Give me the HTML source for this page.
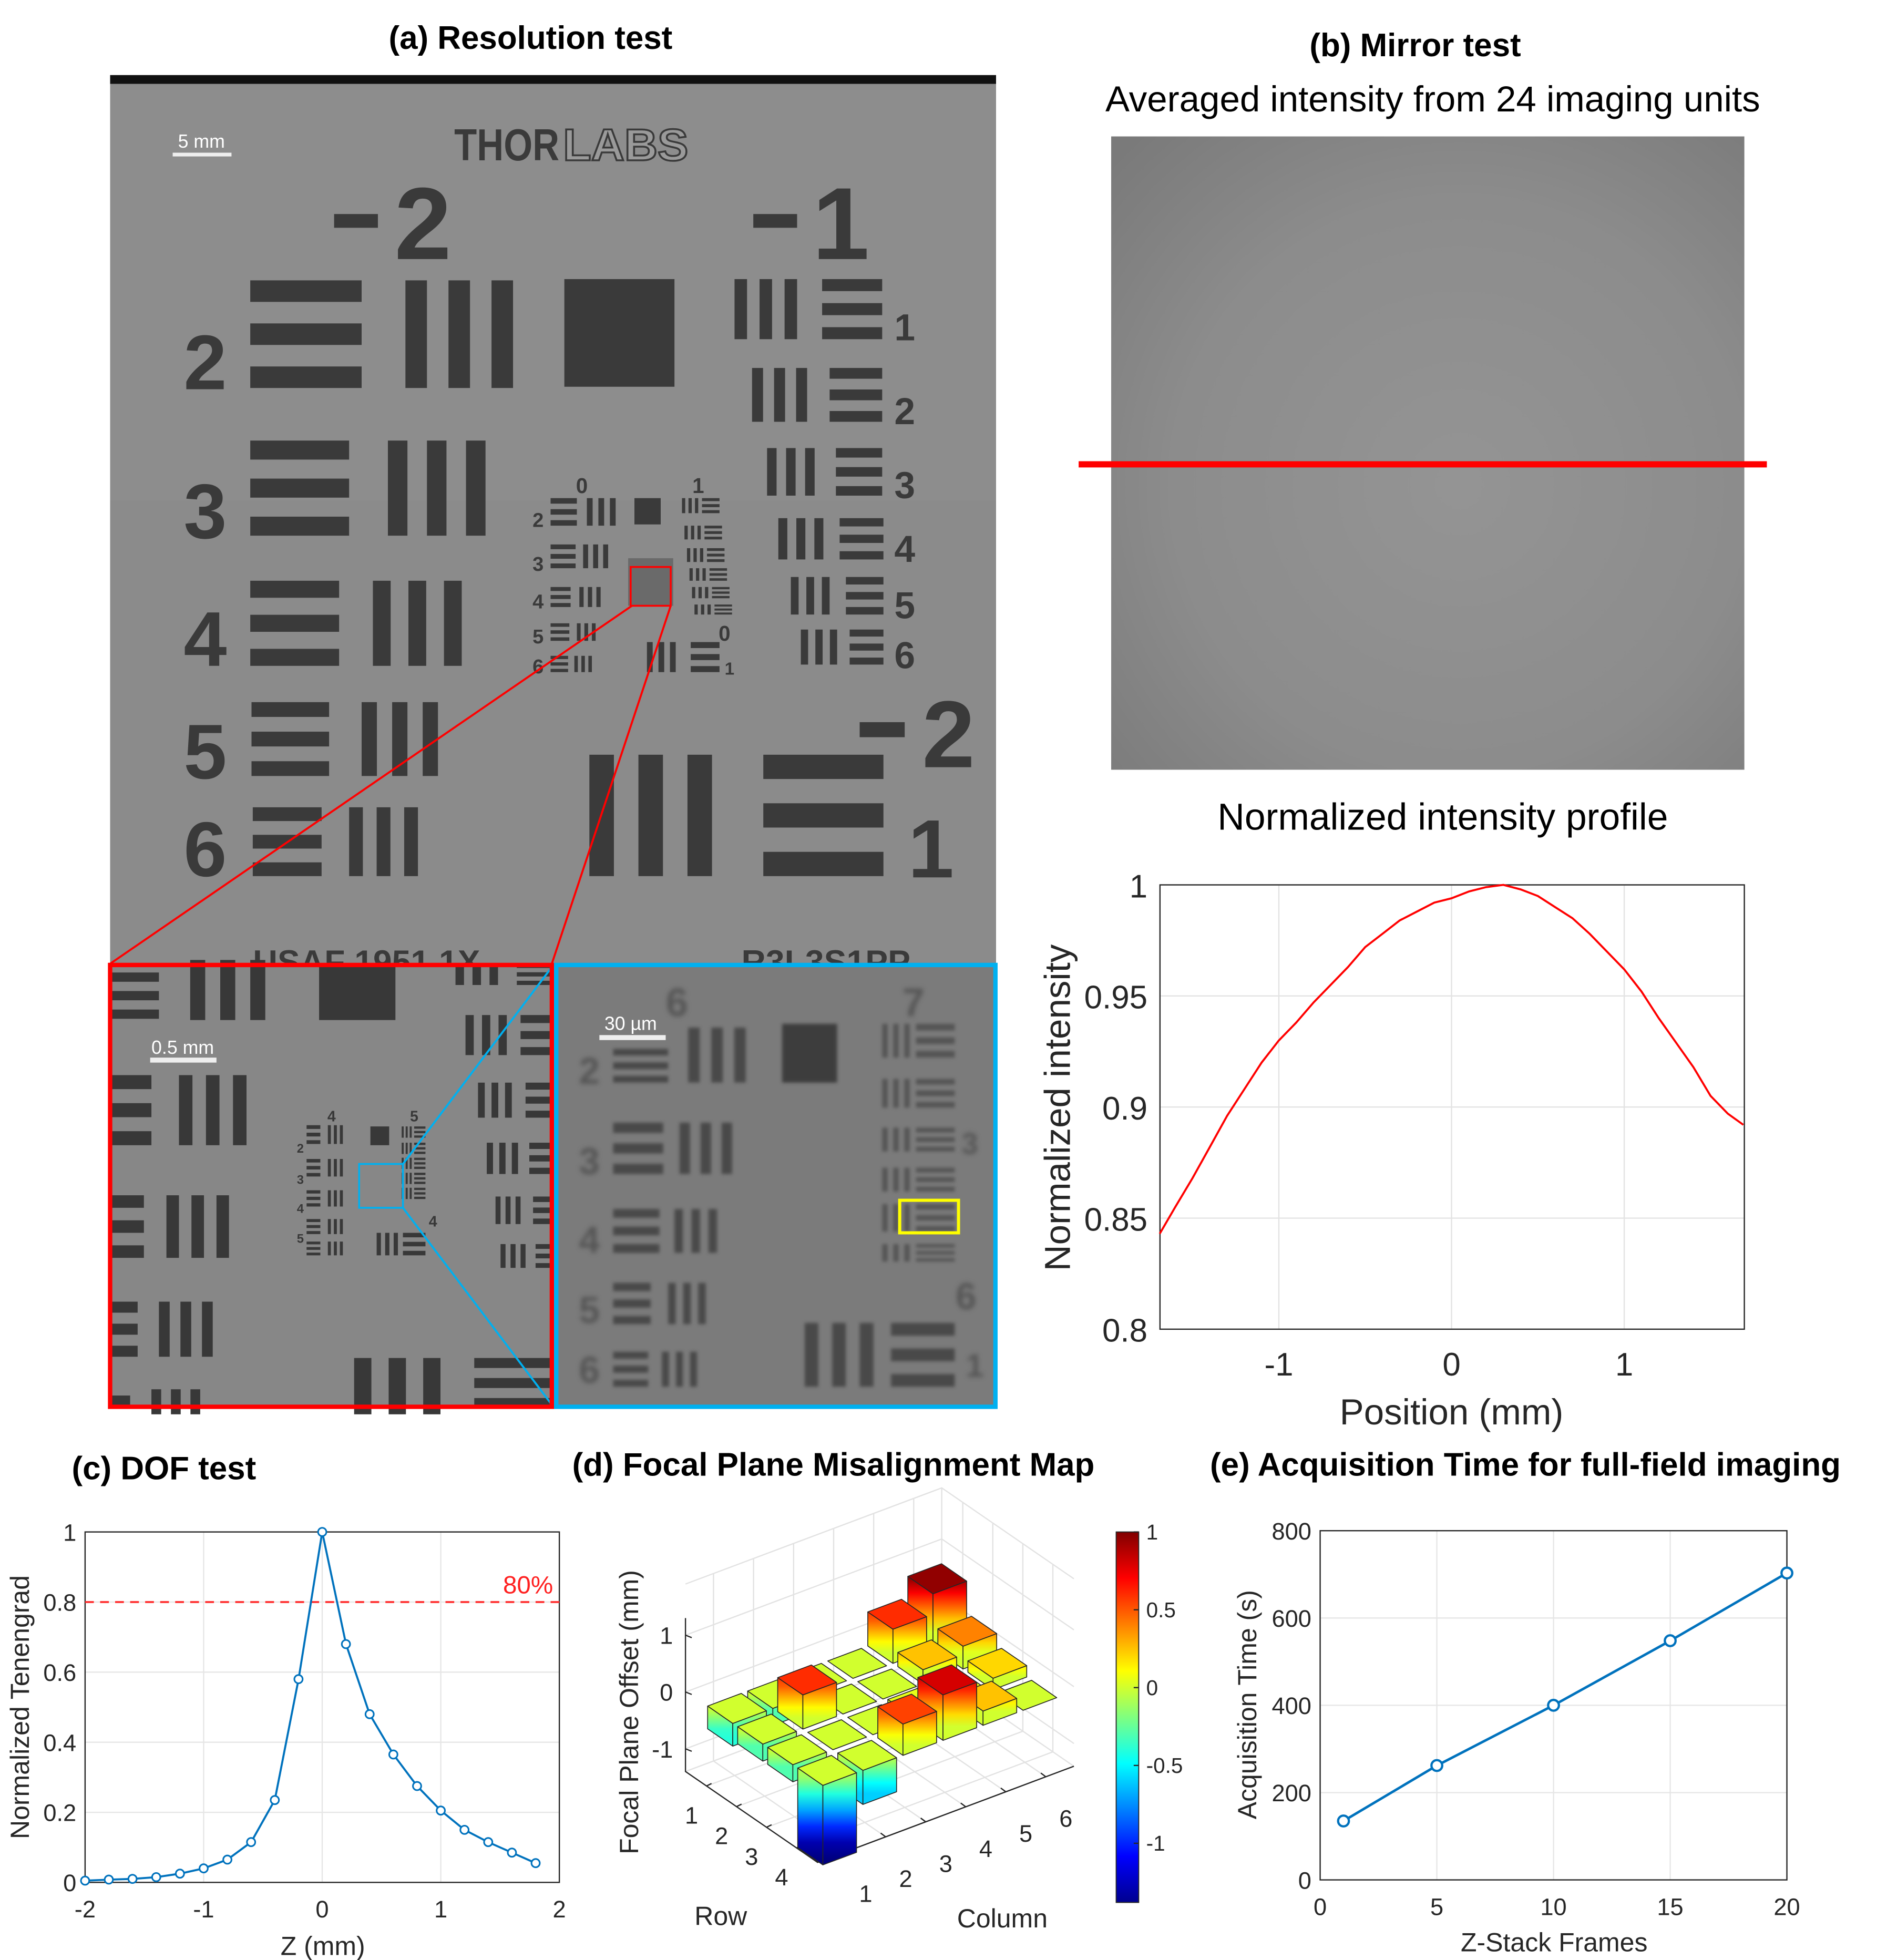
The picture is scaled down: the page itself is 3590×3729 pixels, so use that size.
<!DOCTYPE html>
<html><head><meta charset="utf-8">
<style>
html,body{margin:0;padding:0;background:#fff;}
svg{display:block;}
text{font-family:"Liberation Sans",sans-serif;}
</style></head>
<body>
<svg id="fig" xmlns="http://www.w3.org/2000/svg" width="3590" height="3729" viewBox="0 0 1508 1566" preserveAspectRatio="none">
<defs>
<radialGradient id="mirrorGrad" cx="0.55" cy="0.55" r="0.75">
<stop offset="0" stop-color="#949494"/><stop offset="0.6" stop-color="#8c8c8c"/><stop offset="1" stop-color="#7a7a7a"/>
</radialGradient>
<filter id="blur1"><feGaussianBlur stdDeviation="1.3"/></filter>
<linearGradient id="cbar" x1="0" y1="1" x2="0" y2="0">
<stop offset="0" stop-color="#00008f"/><stop offset="0.125" stop-color="#0000ff"/><stop offset="0.375" stop-color="#00ffff"/><stop offset="0.625" stop-color="#ffff00"/><stop offset="0.875" stop-color="#ff0000"/><stop offset="1" stop-color="#800000"/>
</linearGradient>
</defs>

<text x="424" y="39" font-size="26" font-weight="bold" text-anchor="middle">(a) Resolution test</text>
<text x="1131" y="45" font-size="26" font-weight="bold" text-anchor="middle">(b) Mirror test</text>
<text x="1145" y="89" font-size="29" text-anchor="middle">Averaged intensity from 24 imaging units</text>
<text x="1153" y="663" font-size="30" text-anchor="middle">Normalized intensity profile</text>
<text x="131" y="1182" font-size="26" font-weight="bold" text-anchor="middle">(c) DOF test</text>
<text x="666" y="1179" font-size="26" font-weight="bold" text-anchor="middle">(d) Focal Plane Misalignment Map</text>
<text x="1219" y="1179" font-size="26" font-weight="bold" text-anchor="middle">(e) Acquisition Time for full-field imaging</text>

<g id="panelA"></g>
<g id="insetRed"></g>
<g id="insetBlue"></g>

<rect x="888" y="109" width="506" height="506" fill="url(#mirrorGrad)"/>
<line x1="862" y1="371" x2="1412" y2="371" stroke="#ff0000" stroke-width="5"/>
<g id="profile"></g>

<g id="dof"></g>
<g id="bar3"></g>
<g id="acq"></g>
</svg>

<script>
// ---------- chart data ----------
const profX = [-1.69,-1.6,-1.5,-1.4,-1.3,-1.2,-1.1,-1.0,-0.9,-0.8,-0.7,-0.6,-0.5,-0.4,-0.3,-0.2,-0.1,0,0.1,0.2,0.3,0.4,0.5,0.6,0.7,0.8,0.9,1.0,1.1,1.2,1.3,1.4,1.5,1.6,1.69];
const profY = [0.843,0.855,0.868,0.882,0.896,0.908,0.920,0.930,0.938,0.947,0.955,0.963,0.972,0.978,0.984,0.988,0.992,0.994,0.997,0.999,1.0,0.998,0.995,0.99,0.985,0.978,0.970,0.962,0.952,0.940,0.929,0.918,0.905,0.897,0.892];
const profYTicks = [0.8,0.85,0.9,0.95,1];
const profYTickLabels = ["0.8","0.85","0.9","0.95","1"];
const profXTicks = [-1,0,1];

const dofZ = [-2,-1.8,-1.6,-1.4,-1.2,-1.0,-0.8,-0.6,-0.4,-0.2,0,0.2,0.4,0.6,0.8,1.0,1.2,1.4,1.6,1.8];
const dofT = [0.005,0.008,0.01,0.015,0.025,0.04,0.065,0.115,0.235,0.58,1.0,0.68,0.48,0.365,0.275,0.205,0.15,0.115,0.085,0.055];
const dofYTicks = [0,0.2,0.4,0.6,0.8,1];
const dofYTickLabels = ["0","0.2","0.4","0.6","0.8","1"];
const dofXTicks = [-2,-1,0,1,2];
const dofThreshold = 0.8;

const barRows = [1,2,3,4];
const barCols = [1,2,3,4,5,6];
const offsetRow1 = [-0.4,-0.3,0,0,0.6,0.96];
const offsetRow2 = [-0.3,0.6,0,0,0.25,0.4];
const offsetRow3 = [-0.3,0,0,0.05,0.05,0.2];
const offsetRow4 = [-1.4,-0.6,0.55,0.8,0.25,0];
const zTicks = [-1,0,1];
const cbarTicks = [1,0.5,0,-0.5,-1];
const cbarTickLabels = ["1","0.5","0","-0.5","-1"];

const acqFrames = [1,5,10,15,20];
const acqTime = [135,262,400,548,703];
const acqXTicks = [0,5,10,15,20];
const acqYTicks = [0,200,400,600,800];

// ---------- helpers ----------
const NS = "http://www.w3.org/2000/svg";
function mk(tag, attrs, parent){
  const e = document.createElementNS(NS, tag);
  for (const k in attrs) e.setAttribute(k, attrs[k]);
  if (parent) parent.appendChild(e);
  return e;
}
function txt(parent, x, y, s, size, anchor, extra){
  const e = mk('text', Object.assign({x:x, y:y, 'font-size':size, 'text-anchor':anchor||'middle'}, extra||{}), parent);
  e.textContent = s;
  return e;
}
function grp(parent, x1, y1, x2, y2, orient, fill){
  const g = mk('g', {fill: fill}, parent);
  const w = x2-x1, h = y2-y1;
  for (let i=0;i<3;i++){
    if (orient==='v') mk('rect',{x:x1+i*w*2/5, y:y1, width:w/5, height:h}, g);
    else mk('rect',{x:x1, y:y1+i*h*2/5, width:w, height:h/5}, g);
  }
  return g;
}

// ---------- Panel A ----------
(function(){
  const P = document.getElementById('panelA');
  let e = mk('rect',{x:88,y:60,width:708,height:710,fill:'#8d8d8d'},P);
  
  
  mk('rect',{x:88,y:60,width:708,height:7,fill:'#111'},P);
  mk('rect',{x:88,y:400,width:708,height:370,fill:'#898989',opacity:0.5},P);
  const D = '#3a3a3a';
  const bars = mk('g',{},P);
  
  
  grp(bars,200,224,289,310,'h',D); grp(bars,324,224,410,310,'v',D);
  mk('rect',{x:451,y:223,width:88,height:86,fill:D},bars);
  grp(bars,200,352,279,428,'h',D); grp(bars,310,352,388,428,'v',D);
  grp(bars,200,464,271,532,'h',D); grp(bars,298,464,369,532,'v',D);
  grp(bars,201,561,263,620,'h',D); grp(bars,289,561,350,620,'v',D);
  grp(bars,202,645,257,700,'h',D); grp(bars,279,645,334,700,'v',D);
  const rg = [[587,637,657,705,223,271],[601,645,663,705,294,337],[613,651,668,705,358,396],[622,658,671,706,414,447],[632,663,676,706,461,491],[640,669,679,706,503,531]];
  rg.forEach(r=>{grp(bars,r[0],r[4],r[1],r[5],'v',D);grp(bars,r[2],r[4],r[3],r[5],'h',D);});
  grp(bars,471,603,569,700,'v',D); grp(bars,610,603,706,700,'h',D);
  const cg=[[440,461,469,492,398,420],[440,460,466,486,435,454],[440,456,463,480,469,485],[440,455,461,476,498,512],[440,454,459,473,524,537]];
  cg.forEach(r=>{grp(bars,r[0],r[4],r[1],r[5],'h',D);grp(bars,r[2],r[4],r[3],r[5],'v',D);});
  mk('rect',{x:507,y:398,width:21,height:21,fill:D},bars);
  const sg=[[398,410,545],[420,431,547],[438,449,549],[454,464,551],[469,478,553],[483,491,555]];
  sg.forEach(r=>{grp(bars,r[2],r[0],r[2]+13,r[1],'v',D);grp(bars,r[2]+16,r[0],r[2]+30,r[1],'h',D);});
  grp(bars,517,513,540,537,'v',D); grp(bars,552,513,575,537,'h',D);
  mk('rect',{x:502,y:446,width:36,height:38,fill:'#6a6a6a'},bars);
  const lab = mk('g',{fill:D,'font-weight':'bold'},P);
  
  
  txt(lab,164,311,'2',62); txt(lab,164,430,'3',62); txt(lab,164,532,'4',62); txt(lab,164,622,'5',62); txt(lab,164,700,'6',62);
  mk('rect',{x:267,y:171,width:35,height:11,fill:D},lab);
  txt(lab,338,207,'2',82);
  mk('rect',{x:602,y:171,width:35,height:11,fill:D},lab);
  txt(lab,672,207,'1',82);
  mk('rect',{x:687,y:577,width:36,height:12,fill:D},lab);
  txt(lab,758,613,'2',76); txt(lab,744,701,'1',66);
  txt(lab,723,272,'1',30); txt(lab,723,339,'2',30); txt(lab,723,398,'3',30); txt(lab,723,449,'4',30); txt(lab,723,494,'5',30); txt(lab,723,534,'6',30);
  txt(lab,465,394,'0',17); txt(lab,558,394,'1',17);
  txt(lab,430,421,'2',16); txt(lab,430,456,'3',16); txt(lab,430,486,'4',16); txt(lab,430,514,'5',16); txt(lab,430,538,'6',16);
  txt(lab,579,512,'0',17); txt(lab,583,539,'1',14);
  txt(lab,293,778,'USAF  1951  1X',27,'middle',{'font-family':'Liberation Mono'});
  txt(lab,660,778,'R3L3S1PP',27,'middle',{'font-family':'Liberation Mono'});
  let t = txt(P,405,128,'THOR',36,'middle',{'font-weight':'bold',fill:D,textLength:84,lengthAdjust:'spacingAndGlyphs'});
  
  
  txt(P,500,128,'LABS',36,'middle',{'font-weight':'bold',fill:'#9a9a9a',stroke:D,'stroke-width':1.5,textLength:100,lengthAdjust:'spacingAndGlyphs'});
  t = txt(P,161,118,'5 mm',15,'middle',{fill:'#fff'});
  
  
  mk('rect',{x:138,y:122,width:47,height:3,fill:'#eee'},P);
  mk('rect',{x:504,y:453,width:32,height:31,fill:'none',stroke:'#ff0000','stroke-width':1.5},P);
  let l = mk('line',{x1:505,y1:484,x2:88,y2:770,stroke:'#ff0000','stroke-width':1.6},P);
  
  
  mk('line',{x1:536,y1:484,x2:441,y2:770,stroke:'#ff0000','stroke-width':1.6},P);
})();

// ---------- Red inset ----------
(function(){
  const P = document.getElementById('insetRed');
  mk('rect',{x:88,y:770,width:353,height:355,fill:'#878787'},P);
  const D='#383838';
  const g = mk('g',{},P);
  
  
  grp(g,88,777,127,814,'h',D); grp(g,152,767,212,815,'v',D);
  mk('rect',{x:255,y:770,width:61,height:45,fill:D},g);
  grp(g,364,770,398,787,'v',D); grp(g,413,770,440,787,'h',D);
  grp(g,372,811,405,843,'v',D); grp(g,416,811,440,843,'h',D);
  grp(g,88,859,121,915,'h',D); grp(g,143,859,197,915,'v',D);
  grp(g,88,955,115,1005,'h',D); grp(g,133,955,183,1005,'v',D);
  grp(g,88,1040,110,1084,'h',D); grp(g,127,1040,170,1084,'v',D);
  mk('rect',{x:88,y:1115,width:16,height:8,fill:D},g);
  grp(g,121,1110,160,1130,'v',D);
  grp(g,382,865,409,893,'v',D); grp(g,420,865,440,893,'h',D);
  grp(g,389,913,414,938,'v',D); grp(g,423,913,440,938,'h',D);
  grp(g,396,956,416,978,'v',D); grp(g,426,956,440,978,'h',D);
  grp(g,400,994,420,1013,'v',D); grp(g,428,994,440,1013,'h',D);
  grp(g,283,1085,352,1130,'v',D); grp(g,379,1085,440,1125,'h',D);
  const tg=[[899,914],[926,940],[951,964],[974,986],[992,1003]];
  tg.forEach(r=>{grp(g,245,r[0],256,r[1],'h',D);grp(g,262,r[0],274,r[1],'v',D);});
  mk('rect',{x:296,y:900,width:15,height:15,fill:D},g);
  [900,913,925,937,949].forEach(y=>{grp(g,321,y,329,y+9,'v',D);grp(g,331,y,340,y+9,'h',D);});
  grp(g,301,985,318,1003,'v',D); grp(g,322,985,340,1003,'h',D);
  const lab = mk('g',{fill:D,'font-weight':'bold'},P);
  txt(lab,265,896,'4',12); txt(lab,331,896,'5',12); txt(lab,346,980,'4',12);
  [921,946,969,993].forEach((y,i)=>txt(lab,240,y,String(i+2),10));
  let t = txt(P,146,842,'0.5 mm',15,'middle',{fill:'#fff'});
  
  
  mk('rect',{x:120,y:845,width:53,height:4,fill:'#eee'},P);
  mk('rect',{x:287,y:930,width:35,height:35,fill:'none',stroke:'#00b0f0','stroke-width':1.5},P);
  let l = mk('line',{x1:322,y1:930,x2:443,y2:770,stroke:'#00b0f0','stroke-width':1.6},P);
  
  
  mk('line',{x1:322,y1:965,x2:443,y2:1125,stroke:'#00b0f0','stroke-width':1.6},P);
  mk('rect',{x:88,y:771,width:353,height:353,fill:'none',stroke:'#ff0000','stroke-width':3.5},P);
})();

// ---------- Blue inset ----------
(function(){
  const P = document.getElementById('insetBlue');
  mk('rect',{x:443,y:770,width:354,height:355,fill:'#7b7b7b'},P);
  const D='#4a4a4a';
  const g = mk('g',{filter:'url(#blur1)'},P);
  
  
  grp(g,490,838,534,865,'h',D); grp(g,550,821,596,865,'v',D);
  mk('rect',{x:625,y:818,width:44,height:47,fill:'#3c3c3c'},g);
  grp(g,490,897,530,938,'h',D); grp(g,543,897,585,938,'v',D);
  grp(g,490,966,527,1001,'h',D); grp(g,539,966,573,1001,'v',D);
  grp(g,490,1025,520,1058,'h',D); grp(g,534,1025,564,1058,'v',D);
  grp(g,490,1080,518,1108,'h',D); grp(g,529,1080,557,1108,'v',D);
  grp(g,643,1057,698,1108,'v',D); grp(g,712,1057,763,1108,'h',D);
  [[818,845],[862,885],[901,920],[933,952],[962,984],[994,1008]].forEach(r=>{grp(g,705,r[0],727,r[1],'v','#555');grp(g,732,r[0],763,r[1],'h','#555');});
  const lab = mk('g',{fill:'#555','font-weight':'bold',filter:'url(#blur1)'},g);
  txt(lab,471,866,'2',30); txt(lab,471,938,'3',30); txt(lab,471,1001,'4',30); txt(lab,471,1057,'5',30); txt(lab,471,1105,'6',30);
  txt(lab,541,812,'6',32); txt(lab,730,812,'7',32); txt(lab,772,1046,'6',30); txt(lab,779,1100,'1',26); txt(lab,775,922,'3',24);
  let t = txt(P,504,823,'30 µm',15,'middle',{fill:'#fff'});
  
  
  mk('rect',{x:479,y:827,width:53,height:4,fill:'#eee'},P);
  let y = mk('rect',{x:719,y:959,width:47,height:26,fill:'none',stroke:'#ffff00','stroke-width':2.5},P);
  
  
  mk('rect',{x:444.5,y:771,width:351,height:353,fill:'none',stroke:'#00b0f0','stroke-width':3.5},P);
})();

// ---------- Profile chart ----------
(function(){
  const P = document.getElementById('profile');
  const L=927,R=1394,T=707,B=1062;
  const xs = v => 1160 + v*138;
  const ys = v => B - (v-0.8)/0.2*(B-T);
  mk('rect',{x:L,y:T,width:R-L,height:B-T,fill:'#fff'},P);
  profYTicks.forEach((v,i)=>{
    mk('line',{x1:L,y1:ys(v),x2:R,y2:ys(v),stroke:'#e3e3e3'},P);
    let t = txt(P,917,ys(v)+10,profYTickLabels[i],26,'end',{fill:'#262626'});
    
    
  });
  profXTicks.forEach(v=>{
    mk('line',{x1:xs(v),y1:T,x2:xs(v),y2:B,stroke:'#e3e3e3'},P);
    let t = txt(P,xs(v),1099,String(v),26,'middle',{fill:'#262626'});
    
    
  });
  mk('rect',{x:L,y:T,width:R-L,height:B-T,fill:'none',stroke:'#262626','stroke-width':1},P);
  const pts = profX.map((x,i)=>xs(x).toFixed(1)+','+ys(profY[i]).toFixed(1)).join(' ');
  const pl = mk('polyline',{points:pts,fill:'none',stroke:'#ff0000','stroke-width':1.6},P);
  
  
  let t = txt(P,1160,1138,'Position (mm)',29,'middle',{fill:'#262626'});
  
  
  t = txt(P,0,0,'Normalized intensity',29,'middle',{fill:'#262626',transform:'translate(855,885) rotate(-90)'});
  
  
})();

// ---------- DOF chart ----------
(function(){
  const P = document.getElementById('dof');
  const L=68,R=447,T=1224,B=1504;
  const xs = v => L + (v+2)/4*(R-L);
  const ys = v => B - v*(B-T);
  dofYTicks.forEach((v,i)=>{
    mk('line',{x1:L,y1:ys(v),x2:R,y2:ys(v),stroke:'#e6e6e6'},P);
    let t = txt(P,61,ys(v)+7,dofYTickLabels[i],19,'end',{fill:'#262626'});
    
    
  });
  dofXTicks.forEach(v=>{
    mk('line',{x1:xs(v),y1:T,x2:xs(v),y2:B,stroke:'#e6e6e6'},P);
    let t = txt(P,xs(v),1532,String(v),19,'middle',{fill:'#262626'});
    
    
  });
  mk('rect',{x:L,y:T,width:R-L,height:B-T,fill:'none',stroke:'#262626'},P);
  let th = mk('line',{x1:L,y1:ys(dofThreshold),x2:R,y2:ys(dofThreshold),stroke:'#ff3030','stroke-width':1.6,'stroke-dasharray':'7,5'},P);
  
  
  let t = txt(P,442,ys(dofThreshold)-7,'80%',20,'end',{fill:'#ff2020'});
  
  
  const pts = dofZ.map((x,i)=>xs(x).toFixed(1)+','+ys(dofT[i]).toFixed(1)).join(' ');
  const pl = mk('polyline',{points:pts,fill:'none',stroke:'#0072bd','stroke-width':1.6},P);
  
  
  dofZ.forEach((x,i)=>{
    const c = mk('circle',{cx:xs(x),cy:ys(dofT[i]),r:3.3,fill:'#fff',stroke:'#0072bd','stroke-width':1.3},P);
    
    
  });
  t = txt(P,258,1562,'Z (mm)',21,'middle',{fill:'#262626'});
  
  
  t = txt(P,0,0,'Normalized Tenengrad',21,'middle',{fill:'#262626',transform:'translate(23,1364) rotate(-90)'});
  
  
})();

// ---------- 3D bar chart ----------
(function(){
  const P = document.getElementById('bar3');
  const rowsData = [offsetRow1,offsetRow2,offsetRow3,offsetRow4];
  const zmin=-1.38, zmax=1;
  function jet(v){
    let t=(v-zmin)/(zmax-zmin); t=Math.max(0,Math.min(1,t));
    const cl=x=>Math.round(255*Math.max(0,Math.min(1,x)));
    return 'rgb('+cl(1.5-Math.abs(4*t-3))+','+cl(1.5-Math.abs(4*t-2))+','+cl(1.5-Math.abs(4*t-1))+')';
  }
  const O=[587,1355], RV=[24,16.5], CV=[32,-12.0], ZS=45.4;
  const pr=(r,c,z)=>[O[0]+RV[0]*(r-1)+CV[0]*(c-1), O[1]+RV[1]*(r-1)+CV[1]*(c-1)-ZS*z];
  const pb=(r,c,z)=>{const p=pr(r,c,z); return [p[0]+2,p[1]+10];};
  const pstr = a => a.map(p=>p[0].toFixed(1)+','+p[1].toFixed(1)).join(' ');
  const r0=0.3,r1=4.7,c0=0.3,c1=6.7,zb=-1.4,zt=1.9;
  const grid = mk('g',{stroke:'#e2e2e2','stroke-width':1,fill:'none'},P);
  
  
  barCols.forEach(c=>mk('polyline',{points:pstr([pr(r0,c,zb),pr(r0,c,zt)])},grid));
  zTicks.forEach(z=>mk('polyline',{points:pstr([pr(r0,c0,z),pr(r0,c1,z)])},grid));
  barRows.forEach(r=>mk('polyline',{points:pstr([pr(r,c1,zb),pr(r,c1,zt)])},grid));
  zTicks.forEach(z=>mk('polyline',{points:pstr([pr(r0,c1,z),pr(r1,c1,z)])},grid));
  barRows.forEach(r=>mk('polyline',{points:pstr([pr(r,c0,zb),pr(r,c1,zb)])},grid));
  barCols.forEach(c=>mk('polyline',{points:pstr([pr(r0,c,zb),pr(r1,c,zb)])},grid));
  mk('polyline',{points:pstr([pr(r0,c0,zt),pr(r0,c1,zt),pr(r1,c1,zt)])},grid);
  mk('polyline',{points:pstr([pr(r0,c0,zb),pr(r0,c1,zb),pr(r1,c1,zb)])},grid);
  mk('polyline',{points:pstr([pr(r0,c1,zb),pr(r0,c1,zt)])},grid);
  const ax = mk('g',{stroke:'#262626','stroke-width':1,fill:'none'},P);
  
  
  mk('polyline',{points:pstr([pr(r0,c0,zt-0.6),pr(r0,c0,zb),pr(r1,c0,zb),pr(r1,c1,zb)])},ax);
  zTicks.forEach(z=>{
    const p=pr(r0,c0,z);
    mk('line',{x1:p[0],y1:p[1],x2:p[0]+5,y2:p[1]+2},ax);
    let t=txt(P,p[0]-10,p[1]+7,String(z),19,'end',{fill:'#262626'});
    
    
  });
  barRows.forEach(r=>{
    const p=pr(r,c0,zb);
    mk('line',{x1:p[0],y1:p[1],x2:p[0]+4,y2:p[1]-2},ax);
    let t=txt(P,p[0]-12,p[1]+30,String(r),19,'middle',{fill:'#262626'});
    
    
  });
  barCols.forEach(c=>{
    const p=pr(r1,c,zb);
    mk('line',{x1:p[0],y1:p[1],x2:p[0]-4,y2:p[1]-3},ax);
    let t=txt(P,p[0]+16,p[1]+40,String(c),19,'middle',{fill:'#262626'});
    
    
  });
  let t=txt(P,576,1538,'Row',21,'middle',{fill:'#262626'});
  
  
  t=txt(P,801,1540,'Column',21,'middle',{fill:'#262626'});
  
  
  t=txt(P,0,0,'Focal Plane Offset (mm)',21,'middle',{fill:'#262626',transform:'translate(510,1368) rotate(-90)'});
  
  
  const defs = document.querySelector('defs');
  const cells=[];
  barRows.forEach((r,ri)=>barCols.forEach((c,ci)=>cells.push([r,c,rowsData[ri][ci]])));
  cells.sort((a,b)=>(a[0]-a[1])-(b[0]-b[1]));
  let gid=0;
  const h=0.42;
  cells.forEach(([r,c,v])=>{
    const lo=Math.min(0,v), hi=Math.max(0,v);
    const g=mk('g',{stroke:'#262626','stroke-width':0.7,'stroke-linejoin':'round'},P);
    
    
    if (hi-lo>0.001){
      const yTop=pb(r,c,hi)[1], yBot=pb(r,c,lo)[1];
      const id='bg'+(gid++);
      const lg=mk('linearGradient',{id:id,gradientUnits:'userSpaceOnUse',x1:0,x2:0,y1:yTop-20,y2:yBot+20},defs);
      for(let k=0;k<=8;k++){
        const y=yTop-20+k/8*(yBot-yTop+40);
        const z=hi+(yTop-y)/ZS;
        mk('stop',{offset:k/8,'stop-color':jet(Math.max(lo,Math.min(hi,z)))},lg);
      }
      mk('polygon',{points:pstr([pb(r-h,c-h,hi),pb(r+h,c-h,hi),pb(r+h,c-h,lo),pb(r-h,c-h,lo)]),fill:'url(#'+id+')'},g);
      mk('polygon',{points:pstr([pb(r+h,c-h,hi),pb(r+h,c+h,hi),pb(r+h,c+h,lo),pb(r+h,c-h,lo)]),fill:'url(#'+id+')'},g);
    }
    mk('polygon',{points:pstr([pb(r-h,c-h,hi),pb(r-h,c+h,hi),pb(r+h,c+h,hi),pb(r+h,c-h,hi)]),fill:jet(hi)},g);
  });
  const cb=mk('rect',{x:892,y:1224,width:18,height:296,fill:'url(#cbar)',stroke:'#262626','stroke-width':0.8},P);
  
  
  const cy=v=>1224+(1-v)/(1-(-1.38))*296;
  cbarTicks.forEach((v,i)=>{
    mk('line',{x1:906,y1:cy(v),x2:910,y2:cy(v),stroke:'#262626'},P);
    let t=txt(P,916,cy(v)+6,cbarTickLabels[i],17,'start',{fill:'#262626'});
    
    
  });
})();

// ---------- Acquisition time chart ----------
(function(){
  const P = document.getElementById('acq');
  const L=1055,R=1428,T=1223,B=1502;
  const xs=v=>L+v/20*(R-L);
  const ys=v=>B-v/800*(B-T);
  acqYTicks.forEach(v=>{
    mk('line',{x1:L,y1:ys(v),x2:R,y2:ys(v),stroke:'#e6e6e6'},P);
    let t=txt(P,1048,ys(v)+7,String(v),19,'end',{fill:'#262626'});
    
    
  });
  acqXTicks.forEach(v=>{
    mk('line',{x1:xs(v),y1:T,x2:xs(v),y2:B,stroke:'#e6e6e6'},P);
    let t=txt(P,xs(v),1530,String(v),19,'middle',{fill:'#262626'});
    
    
  });
  mk('rect',{x:L,y:T,width:R-L,height:B-T,fill:'none',stroke:'#262626'},P);
  const pts=acqFrames.map((x,i)=>xs(x).toFixed(1)+','+ys(acqTime[i]).toFixed(1)).join(' ');
  const pl=mk('polyline',{points:pts,fill:'none',stroke:'#0072bd','stroke-width':2},P);
  
  
  acqFrames.forEach((x,i)=>{
    const c=mk('circle',{cx:xs(x),cy:ys(acqTime[i]),r:4.3,fill:'#fff',stroke:'#0072bd','stroke-width':1.8},P);
    
    
  });
  let t=txt(P,1242,1559,'Z-Stack Frames',21,'middle',{fill:'#262626'});
  
  
  t=txt(P,0,0,'Acquisition Time (s)',21,'middle',{fill:'#262626',transform:'translate(1004,1362) rotate(-90)'});
  
  
})();
</script>
</body></html>
